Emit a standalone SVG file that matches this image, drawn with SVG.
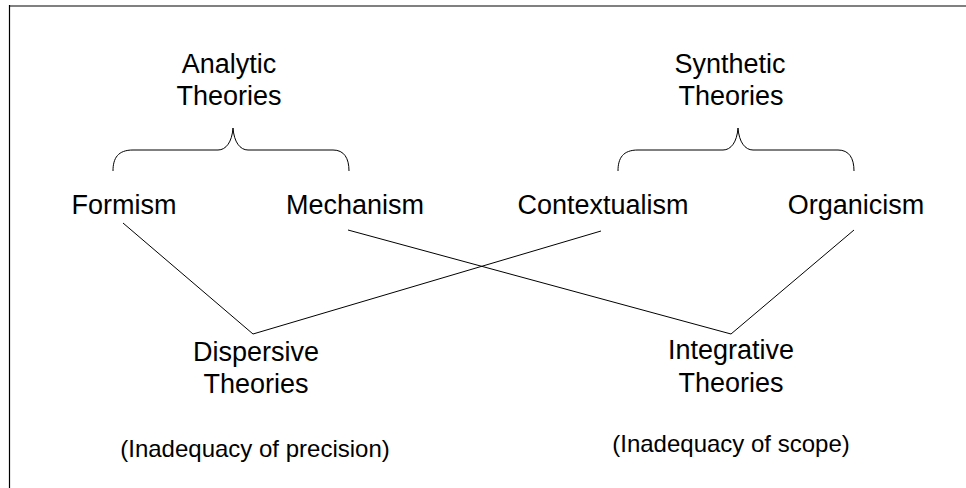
<svg xmlns="http://www.w3.org/2000/svg" width="966" height="488" viewBox="0 0 966 488">
<style>
text{font-family:"Liberation Sans",Arial,sans-serif;fill:#000;text-anchor:middle}
.n{font-size:27px}
.s{font-size:24px}
.c{stroke:#000;stroke-width:1;fill:none}
</style>
<rect width="966" height="488" fill="#fff"/>
<g id="frame">
<line x1="9" y1="6" x2="966" y2="6" stroke="#808080" stroke-width="2"/>
<line x1="9.5" y1="5" x2="9.5" y2="488" stroke="#000" stroke-width="1.2"/>
</g>
<g id="analytic"><text class="n" x="229" y="73">Analytic</text><text class="n" x="229" y="105">Theories</text></g>
<g id="synthetic"><text class="n" x="730" y="73">Synthetic</text><text class="n" x="731" y="105">Theories</text></g>
<g id="formism"><text class="n" x="124" y="214">Formism</text></g>
<g id="mechanism"><text class="n" x="355" y="214">Mechanism</text></g>
<g id="contextualism"><text class="n" x="603" y="214">Contextualism</text></g>
<g id="organicism"><text class="n" x="856" y="214">Organicism</text></g>
<g id="dispersive"><text class="n" x="256" y="361">Dispersive</text><text class="n" x="256" y="393">Theories</text><text class="s" x="255" y="457">(Inadequacy of precision)</text></g>
<g id="integrative"><text class="n" x="731" y="359">Integrative</text><text class="n" x="731" y="392">Theories</text><text class="s" x="731" y="452">(Inadequacy of scope)</text></g>
<g id="connectors">
<path class="c" d="M113,171 C113,158 118,150 133,150 L218,150 C226,150 232,142 233,128 C234,142 240,150 248,150 L333,150 C344,150 349,158 349,171"/>
<path class="c" d="M618,171 C618,158 623,150 638,150 L723,150 C731,150 737,142 738,128 C739,142 745,150 753,150 L838,150 C849,150 854,158 854,171"/>
<line class="c" x1="123" y1="223" x2="253" y2="334"/>
<line class="c" x1="601" y1="231" x2="253" y2="334"/>
<line class="c" x1="348" y1="230" x2="731" y2="334"/>
<line class="c" x1="854" y1="230" x2="731" y2="334"/>
</g>
</svg>
